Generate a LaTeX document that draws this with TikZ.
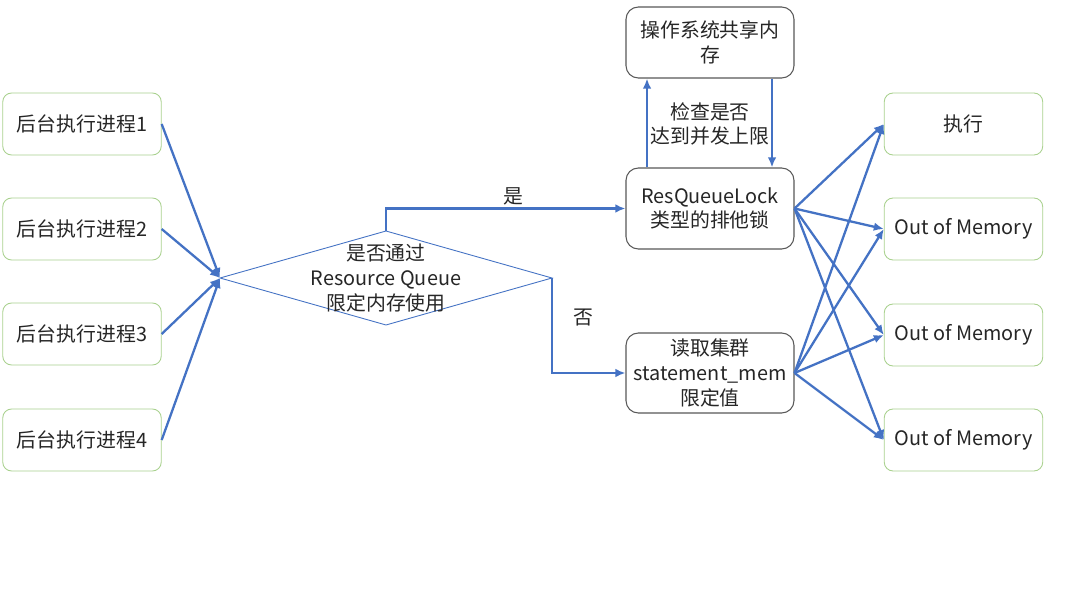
\documentclass[tikz,border=0pt]{standalone}
\usepackage{fontspec}
\setmainfont{Noto Sans CJK SC}
\usepackage{tikz}
\usetikzlibrary{arrows.meta, positioning, shapes.geometric}

\definecolor{lineblue}{HTML}{4472C4}
\definecolor{boxgreen}{HTML}{A9D18E}
\definecolor{boxgray}{HTML}{595959}

\begin{document}
\begin{tikzpicture}[
      x=0.02cm, y=-0.02cm,
      every node/.style={font=\fontsize{11.3}{14}\selectfont, text=black!85},
      proc/.style={draw=boxgreen, rounded corners=5pt, align=center,
                   minimum width=3.17cm, minimum height=1.24cm, line width=0.5pt},
      lockbox/.style={draw=boxgray, rounded corners=7pt, align=center,
                      minimum width=3.36cm, line width=0.6pt},
      decision/.style={diamond, draw=lineblue, line width=0.5pt, inner sep=0pt, outer sep=0pt,
                       minimum width=6.64cm, minimum height=1.88cm},
      arr/.style={-{Latex[length=2mm, width=1.7mm]}, draw=lineblue, line width=1.3pt}
    ]
    \useasboundingbox[fill=white] (0,0) rectangle (1080,608);

    % background processes
    \node[proc] (p1) at (82,124) {后台执行进程1};
    \node[proc] (p2) at (82,229) {后台执行进程2};
    \node[proc] (p3) at (82,334) {后台执行进程3};
    \node[proc] (p4) at (82,440) {后台执行进程4};

    % decision
    \node[decision] (dec) at (386,278) {};
    \node[align=center] (dectext) at (dec) {是否通过\\Resource Queue\\限定内存使用};

    % middle column
    \node[lockbox, minimum height=1.42cm] (shm) at (710,42.5) {操作系统共享内\\存};
    \node[lockbox, minimum height=1.62cm] (lock) at (710,208.5) {ResQueueLock\\类型的排他锁};
    \node[lockbox, minimum height=1.6cm] (stmt) at (710,373) {读取集群\\statement\_mem\\限定值};

    % results
    \node[proc] (r1) at (963.5,124) {执行};
    \node[proc] (r2) at (963.5,229) {Out of Memory};
    \node[proc] (r3) at (963.5,335) {Out of Memory};
    \node[proc] (r4) at (963.5,440) {Out of Memory};

    \draw[arr] (p1.east) -- (dec.west);
    \draw[arr] (p2.east) -- (dec.west);
    \draw[arr] (p3.east) -- (dec.west);
    \draw[arr] (p4.east) -- (dec.west);

    \draw[arr] (dec.north) |- node[pos=0.765, above=-2pt] (yes) {是} (lock.west);
    \draw[arr] (dec.east) |- (stmt.west);
    \node (no) at (583,318) {否};

    \draw[arr] (lock.north -| 647,0) -- (shm.south -| 647,0);
    \draw[arr] (shm.south -| 772,0) -- (lock.north -| 772,0);
    \node[align=center] (chk) at (710,124) {检查是否\\达到并发上限};

    \draw[arr] (lock.east) -- (r1.west);
    \draw[arr] (lock.east) -- (r2.west);
    \draw[arr] (lock.east) -- (r3.west);
    \draw[arr] (lock.east) -- (r4.west);
    \draw[arr] (stmt.east) -- (r1.west);
    \draw[arr] (stmt.east) -- (r2.west);
    \draw[arr] (stmt.east) -- (r3.west);
    \draw[arr] (stmt.east) -- (r4.west);
  \end{tikzpicture}
\end{document}
